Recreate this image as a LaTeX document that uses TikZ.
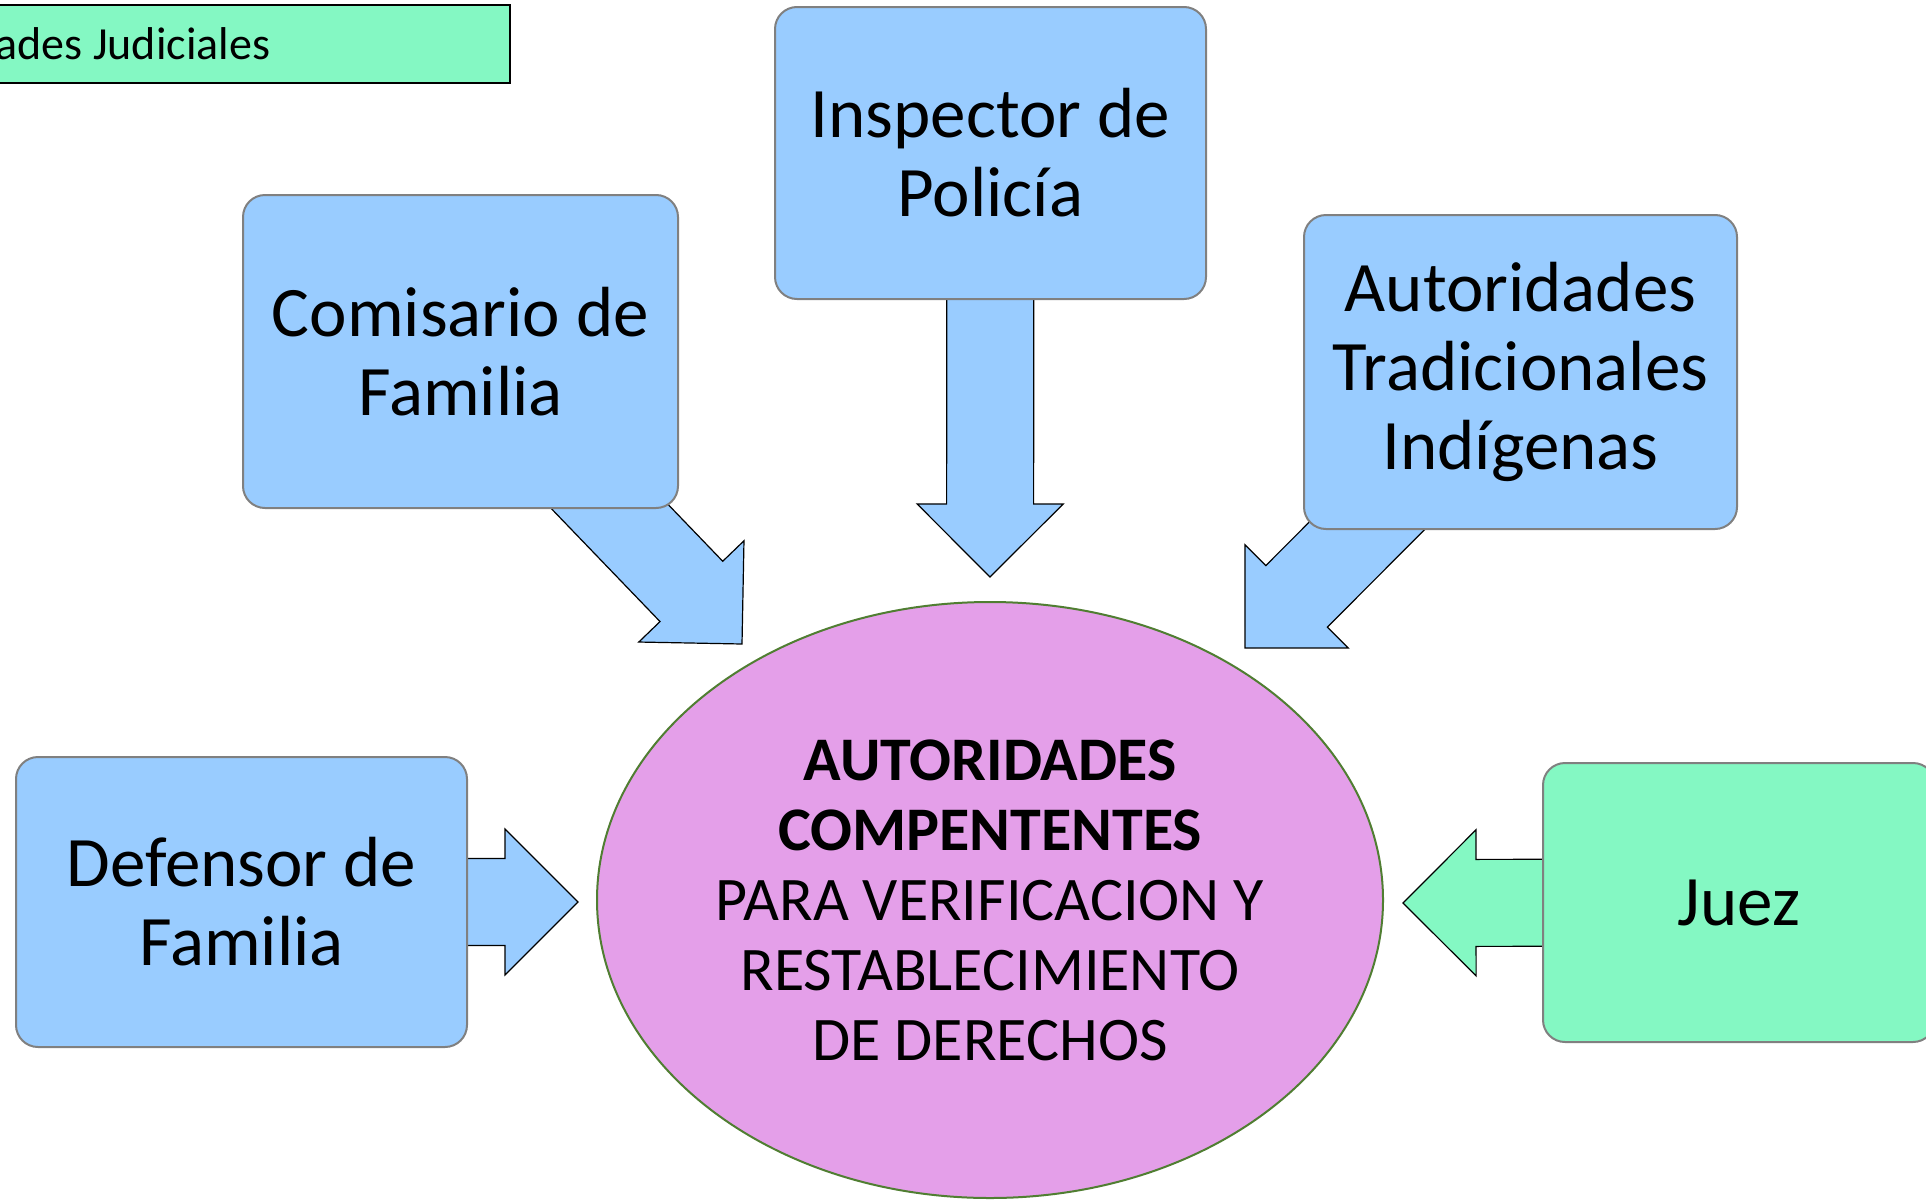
\documentclass[tikz,border=0pt]{standalone}
\usepackage{fontspec}
\setmainfont{Carlito}
\usepackage{tikz}
\usetikzlibrary{calc,shapes.geometric,backgrounds}
\definecolor{azul}{HTML}{99CCFF}
\definecolor{verde}{HTML}{84F8C3}
\definecolor{rosa}{HTML}{E49FE9}
\definecolor{oliva}{HTML}{507E32}
\colorlet{gris}{black!50}

\tikzset{
  caja/.style={draw=gris,line width=1pt,rounded corners=11pt,align=center,inner sep=0pt,
    font=\fontsize{35.5pt}{39.5pt}\selectfont},
  flechabloque/.style={draw=black,line width=0.6pt}
}

% flecha gruesa: #1 relleno, #2 nodo de origen, #3 punta
\newcommand{\flecha}[3]{%
  \draw[flechabloque,fill=#1] (#3) -- ($(#3)!51.62pt!45:(#2)$) -- ($(#3)!42.49pt!30.79:(#2)$)
    -- ($(#2)!21.75pt!-90:(#3)$) -- ($(#2)!21.75pt!90:(#3)$)
    -- ($(#3)!42.49pt!-30.79:(#2)$) -- ($(#3)!51.62pt!-45:(#2)$) -- cycle;}

\begin{document}
\begin{tikzpicture}[x=0.5pt,y=-0.5pt]
        \useasboundingbox (0,0) rectangle (1926,1199);
        \clip (0,0) rectangle (1926,1199);
        \node[caja,fill=azul,minimum width=217.5pt,minimum height=156.5pt](comisario) at (460.5,351.5) {Comisario de\\Familia};
        \node[caja,fill=azul,minimum width=215.5pt,minimum height=146pt](inspector) at (990.5,153) {Inspector de\\Policía};
        \node[caja,fill=azul,minimum width=216.5pt,minimum height=157pt](tradicionales) at (1520.5,372) {Autoridades\\Tradicionales\\Indígenas};
        \node[caja,fill=azul,minimum width=225.5pt,minimum height=145pt](defensor) at (241.5,902) {Defensor de\\Familia};
        \node[caja,fill=verde,minimum width=196pt,minimum height=139.5pt](juez) at (1739,902.5) {Juez};
        \node[draw=black,line width=1pt,fill=verde,minimum width=447.5pt,minimum height=39pt,inner sep=0pt,
          font=\fontsize{23pt}{27pt}\selectfont,anchor=east](judiciales) at (511,44) {Autoridades Judiciales};
        \node[ellipse,draw=oliva,line width=1pt,fill=rosa,minimum width=393pt,minimum height=298pt,inner sep=0pt,
          align=center,font=\fontsize{31pt}{35pt}\selectfont](centro) at (990,900)
          {\textbf{AUTORIDADES}\\\textbf{COMPENTENTES}\\PARA VERIFICACION Y\\RESTABLECIMIENTO\\DE DERECHOS};
        \coordinate(pcom) at (742,644);
        \coordinate(pins) at (990,577);
        \coordinate(ptra) at (1245,648);
        \coordinate(pdef) at (578,902);
        \coordinate(pjue) at (1403,903);
        \begin{scope}[on background layer]
        \flecha{azul}{comisario}{pcom}
        \flecha{azul}{inspector}{pins}
        \flecha{azul}{tradicionales}{ptra}
        \flecha{azul}{defensor}{pdef}
        \flecha{verde}{juez}{pjue}
        \end{scope}
    \end{tikzpicture}
\end{document}
